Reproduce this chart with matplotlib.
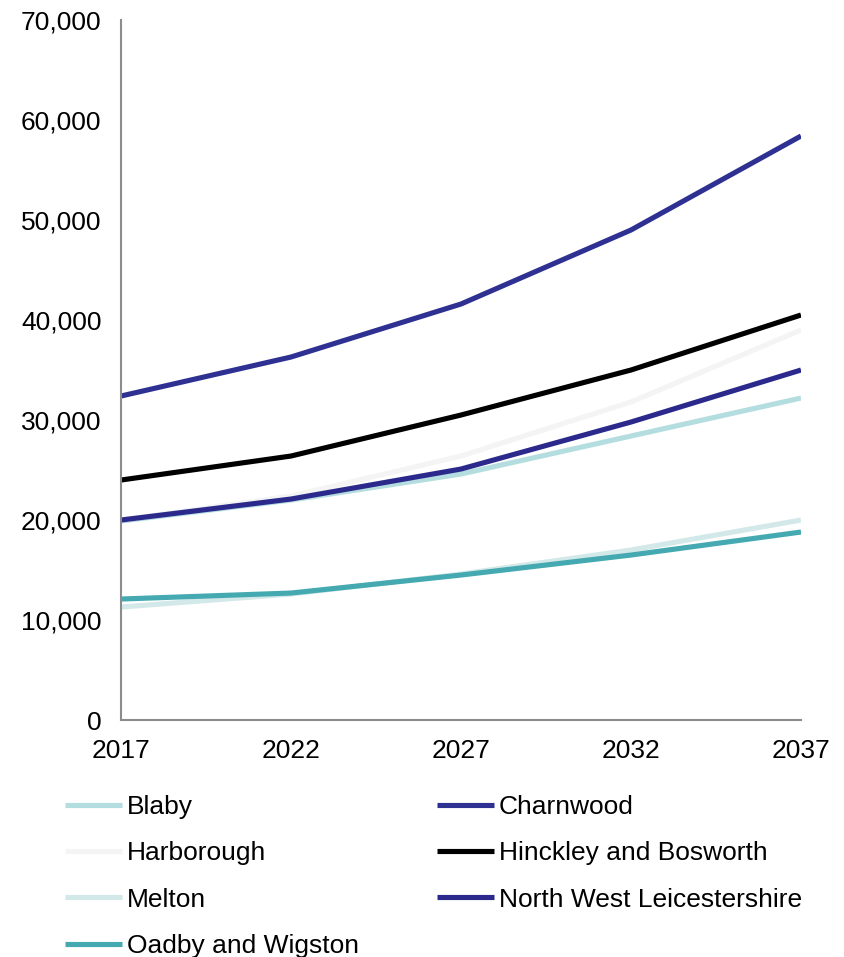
import matplotlib.pyplot as plt
from matplotlib.ticker import FuncFormatter

plt.rcParams['font.family'] = ['Liberation Sans', 'DejaVu Sans']

years = [2017, 2022, 2027, 2032, 2037]
blaby = [19900, 22000, 24600, 28400, 32200]
charnwood = [32400, 36300, 41600, 49000, 58400]
harborough = [20000, 22400, 26400, 31800, 39000]
hinckley = [24000, 26400, 30500, 35000, 40500]
melton = [11300, 12600, 14600, 17000, 20000]
nwl = [20000, 22100, 25100, 29800, 35000]
oadby = [12100, 12700, 14500, 16500, 18800]

series = [
    ('Blaby', blaby, '#b4dde0'),
    ('Charnwood', charnwood, '#2e3192'),
    ('Harborough', harborough, '#f4f4f4'),
    ('Hinckley and Bosworth', hinckley, '#000000'),
    ('Melton', melton, '#d3e8e8'),
    ('North West Leicestershire', nwl, '#2b2a8c'),
    ('Oadby and Wigston', oadby, '#44a9b0'),
]

fig = plt.figure(figsize=(8.45, 9.57), dpi=100)
ax = fig.add_axes([0.1432, 0.2476, 0.8047, 0.7315])

for name, vals, col in series:
    ax.plot(years, vals, color=col, linewidth=3.7, label=name,
            solid_capstyle='butt')

ax.set_xlim(2017, 2037)
ax.set_ylim(0, 70000)
ax.set_xticks(years)
ax.set_yticks(range(0, 70001, 10000))
ax.yaxis.set_major_formatter(FuncFormatter(lambda v, p: f'{int(v):,}'))
ax.tick_params(length=0, labelsize=19, colors='#000000')
ax.tick_params(axis='y', pad=14)
ax.tick_params(axis='x', pad=14)
for s in ['top', 'right']:
    ax.spines[s].set_visible(False)
for s in ['left', 'bottom']:
    ax.spines[s].set_color('#8c8c8c')
    ax.spines[s].set_linewidth(1.5)

# legend fills row-wise: reorder for column-major layout
h, l = ax.get_legend_handles_labels()
order = [0, 2, 4, 6, 1, 3, 5]
leg = fig.legend([h[i] for i in order], [l[i] for i in order],
                 loc='upper left', bbox_to_anchor=(0.077, 0.169), ncol=2,
                 frameon=False, fontsize=19, handlelength=2.15,
                 handletextpad=0.2, columnspacing=2.95, labelspacing=0.84,
                 borderaxespad=0, borderpad=0)

fig.savefig('out.png', dpi=100, facecolor='white')
